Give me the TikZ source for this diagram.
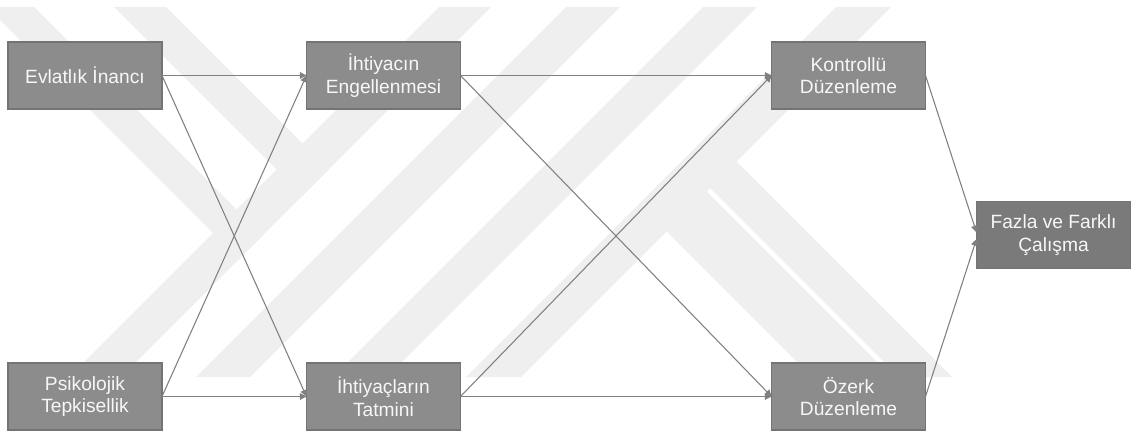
\documentclass[tikz,border=0pt]{standalone}
\usepackage{fontspec}
\setmainfont{Liberation Sans}
\usepackage{tikz}
\usetikzlibrary{arrows.meta,backgrounds,calc}
\definecolor{cBox}{HTML}{8C8C8C}
\definecolor{cOut}{HTML}{7A7A7A}
\definecolor{cEdge}{HTML}{747474}
\definecolor{cLine}{HTML}{808080}
\definecolor{cText}{HTML}{F7F7F7}
\definecolor{cWmark}{HTML}{EFEFEF}
\tikzset{
  box/.style    = {draw=cEdge, line width=1pt, fill=cBox, text=cText, align=center,
                   minimum width=115.5pt, minimum height=50.25pt, inner sep=2pt,
                   outer sep=0pt, font=\fontsize{14.4}{17}\selectfont},
  outbox/.style = {box, fill=cOut},
  flow/.style   = {-{Triangle[length=5pt, width=5pt]}, draw=cLine, line width=0.8pt},
  wmark/.style  = {fill=cWmark, draw=none},
}

\begin{document}
\begin{tikzpicture}[x=0.75pt, y=-0.75pt]
  \useasboundingbox (0,0) rectangle (1132,435);
  % boxes, left to right
  \node[box] (evl) at (85,75.5)     {Evlatlık İnancı};
  \node[box] (psi) at (85,396.5)    {Psikolojik\\Tepkisellik};
  \node[box] (eng) at (383.5,75.5)  {İhtiyacın\\Engellenmesi};
  \node[box] (tat) at (383.5,396.5) {İhtiyaçların\\Tatmini};
  \node[box] (kon) at (848.5,75.5)  {Kontrollü\\Düzenleme};
  \node[box] (oze) at (848.5,396.5) {Özerk\\Düzenleme};
  \node[outbox] (faz) at (1053.5,235) {Fazla ve Farklı\\Çalışma};
  % paths
  \foreach \a/\b in {evl/eng, evl/tat, psi/eng, psi/tat,
                     eng/kon, eng/oze, tat/kon, tat/oze}
    \draw[flow] (\a.east) -- (\b.west);
  \draw[flow] (kon.east) -- ([yshift=2pt]faz.west);
  \draw[flow] (oze.east) -- ([yshift=-3pt]faz.west);
  % watermark stripes
  \begin{scope}[on background layer]
    \clip (0,0) rectangle (1132,435);
    \fill[wmark] (439,7) -- (491,7) -- (121,377) -- (69,377) -- cycle;
    \fill[wmark] (566,7) -- (620,7) -- (250,377) -- (196,377) -- cycle;
    \fill[wmark] (703,7) -- (757,7) -- (387,377) -- (333,377) -- cycle;
    \fill[wmark] (836,7) -- (891,7) -- (521,377) -- (466,377) -- cycle;
    \fill[wmark] (-13,7) -- (34,7) -- (262.5,235.5) -- (239,259) -- cycle;
    \fill[wmark] (114,7) -- (166,7) -- (328.5,169.5) -- (302.5,195.5) -- cycle;
    \fill[wmark] (709,134) -- (952,377) -- (899,377) -- (682.5,160.5) -- cycle;
    \fill[wmark] (679,164) -- (892,377) -- (812,377) -- (639,204) -- cycle;
  \end{scope}
\end{tikzpicture}
\end{document}
